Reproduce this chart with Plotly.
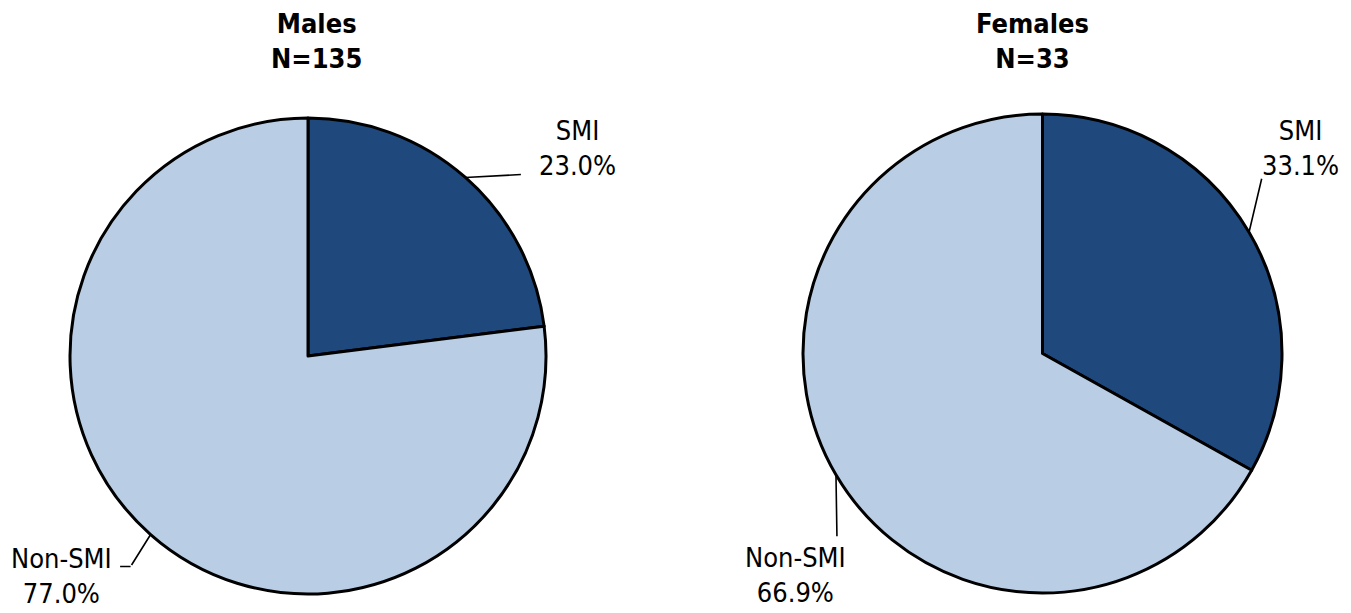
import math
import plotly.graph_objects as go

# ---- data ----
groups = ["Males", "Females"]
group_n = [135, 33]
categories = ["SMI", "Non-SMI"]
male_values = [23.0, 77.0]
female_values = [33.1, 66.9]
colors = ["#1F497D", "#B9CDE5"]

# page body has an 8px margin; the figure is placed at (8, 8)
OFF = 8
W, H = 1351 - OFF, 613 - OFF
FONT = "DejaVu Sans Condensed, Liberation Sans Narrow, Arial Narrow, Liberation Sans, sans-serif"

# pie geometry in page pixels: centre x, centre y, radius
geom = [(308, 356, 238), (1042.5, 353.5, 239.5)]

def px(x):
    return (x - OFF) / W

def py(y):
    return 1 - (y - OFF) / H

fig = go.Figure()
all_values = [male_values, female_values]
for vals, (cx, cy, r) in zip(all_values, geom):
    fig.add_trace(go.Pie(
        labels=categories, values=vals, sort=False, direction="clockwise",
        rotation=0, textinfo="none", hoverinfo="label+percent",
        marker=dict(colors=colors, line=dict(color="black", width=3)),
        domain=dict(x=[px(cx - r), px(cx + r)], y=[py(cy + r), py(cy - r)]),
        showlegend=False,
    ))

annotations = []

# titles
title_pos = [(316, 41), (1032, 41)]
for g, n, (tx, ty) in zip(groups, group_n, title_pos):
    annotations.append(dict(
        text=f"<b>{g}<br>N={n}</b>", x=px(tx), y=py(ty), xref="paper", yref="paper",
        xanchor="center", yanchor="middle", showarrow=False,
        font=dict(family=FONT, size=27, color="black"),
    ))

# label text positions (page pixels) per pie per category
label_pos = [[(577, 148), (61, 576)], [(1300, 148), (795, 575)]]
# leader-line polylines as offsets from slice-midpoint edge point
leader_offsets = [
    [[(57, -3)], [(-20, 32), (-32, 32)]],
    [[(13, -55)], [(1, 63)]],
]

for vals, (cx, cy, r), lpos, loffs in zip(all_values, geom, label_pos, leader_offsets):
    total = sum(vals)
    cum = 0
    for cat, v, (lx, ly), offs in zip(categories, vals, lpos, loffs):
        mid = (cum + v / 2) / total * 2 * math.pi
        cum += v
        tipx = cx + r * math.sin(mid)
        tipy = cy - r * math.cos(mid)
        pct = v / total * 100
        annotations.append(dict(
            text=f"{cat}<br>{pct:.1f}%", x=px(lx), y=py(ly), xref="paper", yref="paper",
            xanchor="center", yanchor="middle", showarrow=False, align="center",
            font=dict(family=FONT, size=27, color="black"),
        ))
        # leader line segments
        sx, sy = tipx, tipy
        for (ox, oy) in offs:
            ex, ey = tipx + ox, tipy + oy
            annotations.append(dict(
                text="", x=px(sx), y=py(sy), xref="paper", yref="paper",
                ax=ex - sx, ay=ey - sy, axref="pixel", ayref="pixel",
                showarrow=True, arrowhead=0, arrowwidth=1.6, arrowcolor="black",
                standoff=0, startstandoff=0,
            ))
            sx, sy = ex, ey

fig.update_layout(
    width=W, height=H, autosize=False,
    margin=dict(l=0, r=0, t=0, b=0),
    paper_bgcolor="white", plot_bgcolor="white",
    annotations=annotations,
    font=dict(family=FONT),
)

fig.write_html("out.html")
